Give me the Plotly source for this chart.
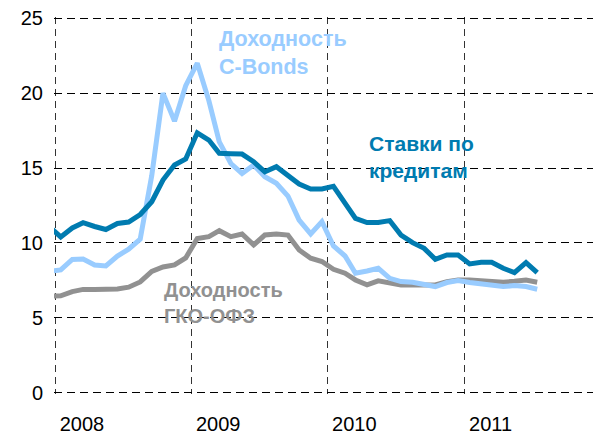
import plotly.graph_objects as go
import pandas as pd

# Monthly observations, Dec 2007 .. Jul 2011 (plotted at mid-month)
months = pd.date_range("2007-12-01", "2011-07-01", freq="MS") + pd.Timedelta(days=15)

credit_rates = [11.1, 10.4, 11.0, 11.35, 11.1, 10.9, 11.3, 11.4, 11.9, 12.75, 14.2, 15.2, 15.6,
                17.35, 16.87, 15.98, 15.95, 15.93, 15.42, 14.75, 15.09, 14.53, 13.93, 13.6, 13.6,
                13.78, 12.64, 11.64, 11.36, 11.36, 11.49, 10.53, 10.02, 9.64, 8.91, 9.2, 9.2,
                8.6, 8.71, 8.71, 8.31, 8.02, 8.69, 8.02]

cbonds_yield = [8.1, 8.2, 8.9, 8.93, 8.53, 8.47, 9.13, 9.58, 10.25, 14.5, 20.0, 18.13, 20.5,
                22.0, 19.5, 16.75, 15.3, 14.64, 15.2, 14.42, 13.98, 13.13, 11.53, 10.6, 11.42,
                9.8, 9.13, 7.98, 8.13, 8.31, 7.64, 7.42, 7.38, 7.2, 7.09, 7.36, 7.49,
                7.36, 7.24, 7.2, 7.09, 7.16, 7.09, 6.91]

gko_ofz_yield = [6.45, 6.47, 6.75, 6.9, 6.9, 6.93, 6.93, 7.05, 7.4, 8.1, 8.4, 8.53, 9.0,
                 10.3, 10.42, 10.82, 10.42, 10.6, 9.87, 10.53, 10.6, 10.53, 9.53, 8.98, 8.76,
                 8.24, 7.98, 7.53, 7.2, 7.47, 7.31, 7.2, 7.2, 7.24, 7.2, 7.42, 7.53,
                 7.53, 7.49, 7.47, 7.38, 7.44, 7.53, 7.38]

year_labels = ["2008", "2009", "2010", "2011"]
year_label_pos = ["2008-03-13", "2009-03-13", "2010-03-13", "2011-03-13"]
year_starts = ["2008-01-01", "2009-01-01", "2010-01-01", "2011-01-01", "2012-01-01"]
y_ticks = [0, 5, 10, 15, 20, 25]

C_LIGHT = "#99CCFF"
C_DARK = "#007BB0"
C_GRAY = "#919191"
FONT = "Liberation Sans, Arial, sans-serif"

fig = go.Figure()
fig.add_trace(go.Scatter(x=months, y=gko_ofz_yield, mode="lines",
                         line=dict(color=C_GRAY, width=5), name="ГКО-ОФЗ"))
fig.add_trace(go.Scatter(x=months, y=cbonds_yield, mode="lines",
                         line=dict(color=C_LIGHT, width=5), name="C-Bonds"))
fig.add_trace(go.Scatter(x=months, y=credit_rates, mode="lines",
                         line=dict(color=C_DARK, width=5), name="Ставки по кредитам"))

# The page body has an 8px default margin, so the figure is sized to fill the window.
OFF = 8
W, H = 593, 426
L, R, T, B = 46, 0, 9, 40
pw, ph = W - L - R, H - T - B

def px(page_x):
    return (page_x - OFF - L) / pw

def py(page_y):
    return (H - B - (page_y - OFF)) / ph

annos = [
    ("<b>Доходность<br>C-Bonds</b>", 217, 25, C_LIGHT, 21.5),
    ("<b>Ставки по<br>кредитам</b>", 367, 130, C_DARK, 21),
    ("<b>Доходность<br>ГКО-ОФЗ</b>", 162, 277, C_GRAY, 20),
]
for text, x, y, col, sz in annos:
    fig.add_annotation(text=text, x=px(x), y=py(y), xref="paper", yref="paper",
                       xanchor="left", yanchor="top", align="left", showarrow=False,
                       font=dict(family=FONT, size=sz, color=col))

fig.update_layout(
    width=W, height=H,
    margin=dict(l=L, r=R, t=T, b=B, pad=0, autoexpand=False),
    paper_bgcolor="white", plot_bgcolor="white",
    showlegend=False,
    font=dict(family=FONT, size=20, color="black"),
    xaxis=dict(
        type="date", automargin=False,
        range=["2007-12-29", "2012-01-03"],
        tickmode="array", tickvals=year_label_pos, ticktext=year_labels,
        showgrid=False, ticks="", ticklen=0, showline=False, zeroline=False,
        ticklabelstandoff=16, ticklabeloverflow="allow",
        tickfont=dict(size=20, color="black"),
        minor=dict(tickmode="array", tickvals=year_starts, showgrid=True,
                   gridcolor="#333333", gridwidth=1, griddash="7px,5px", ticks=""),
    ),
    yaxis=dict(
        range=[-0.08, 25.08], tickmode="array", tickvals=y_ticks, automargin=False,
        showgrid=True, gridcolor="black", gridwidth=1, griddash="8px,5px",
        zeroline=False, showline=False, ticks="", ticklen=0,
        ticklabelstandoff=10, ticklabeloverflow="allow",
        tickfont=dict(size=20, color="black"),
    ),
)

fig.write_html("out.html")
